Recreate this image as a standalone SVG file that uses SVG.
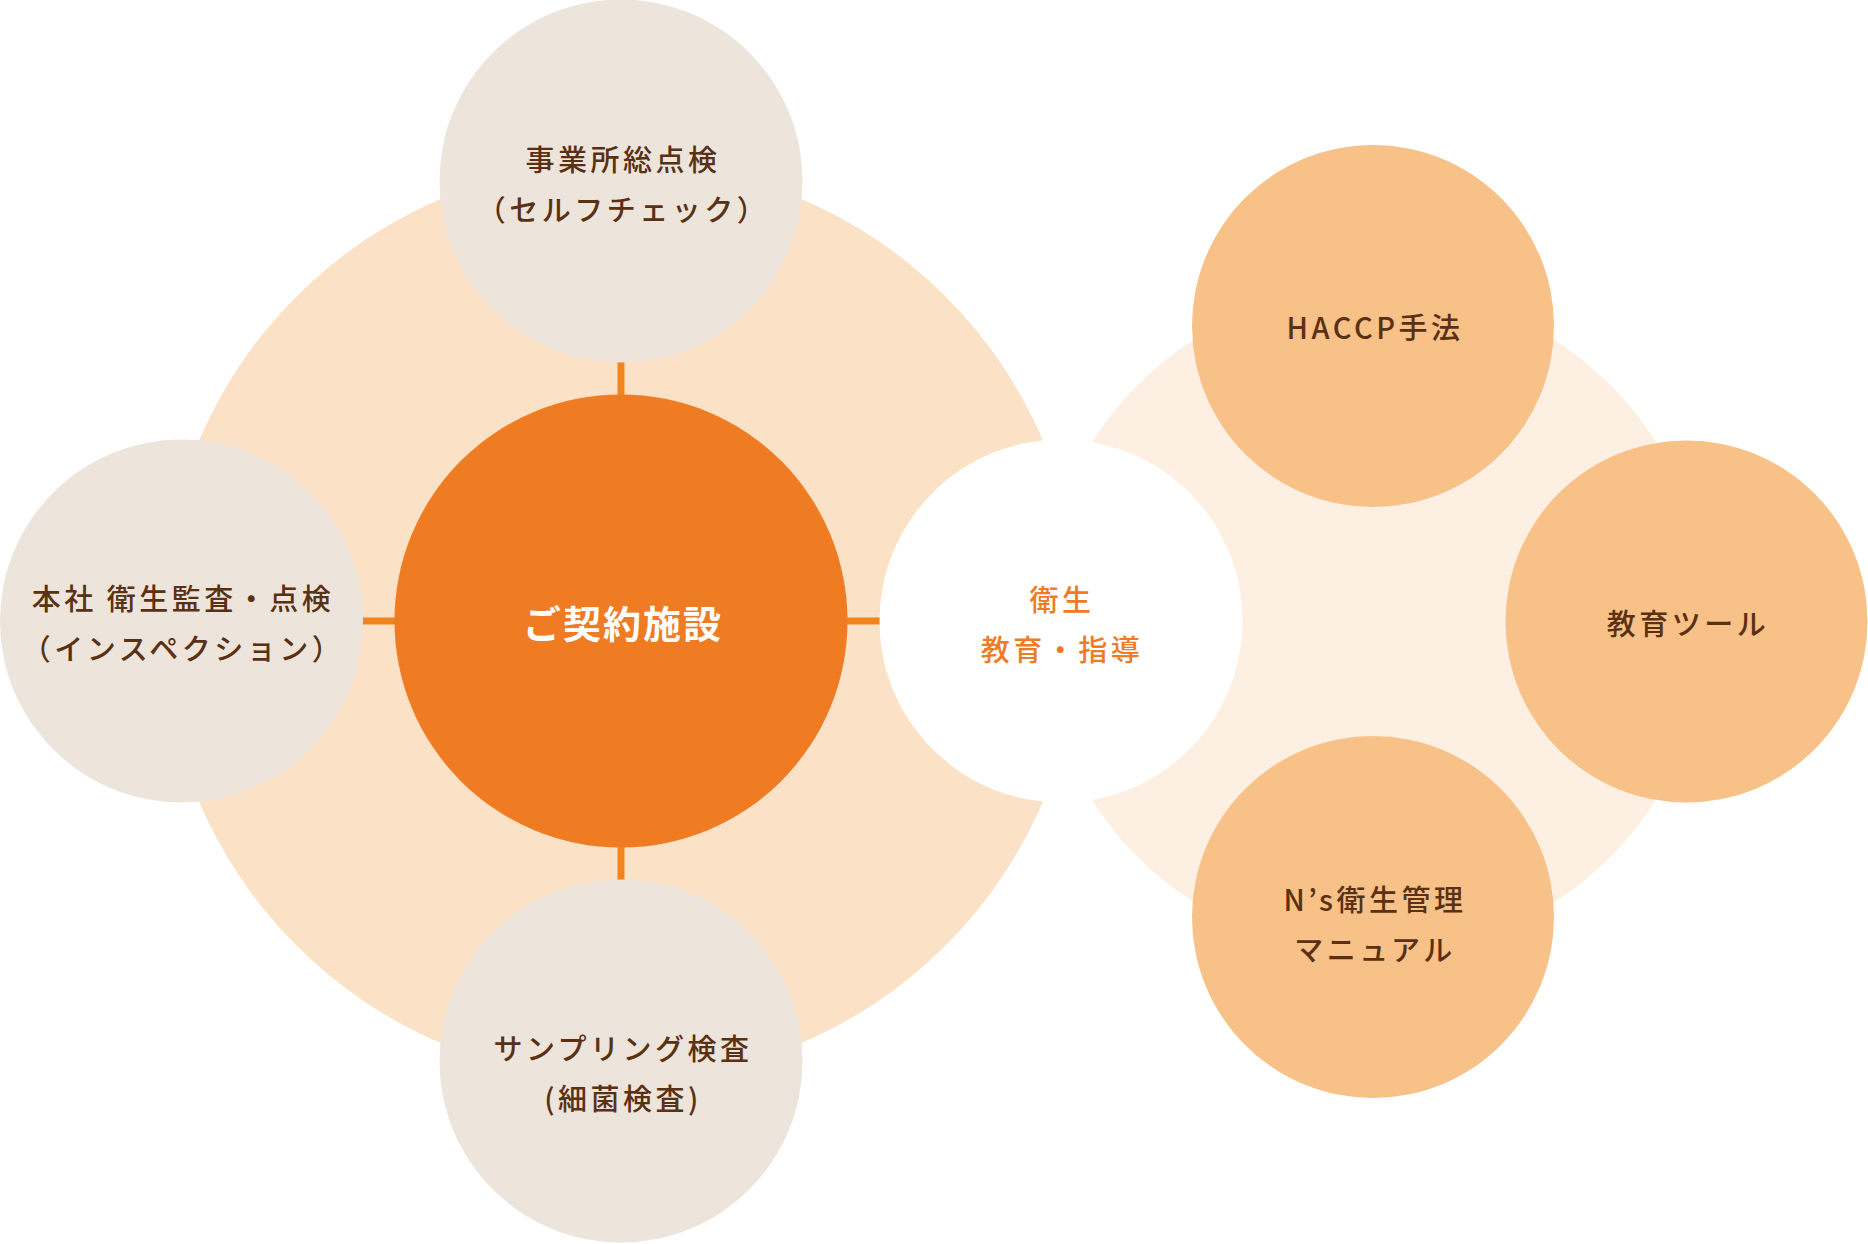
<svg xmlns="http://www.w3.org/2000/svg" width="1868" height="1244" viewBox="0 0 1868 1244">
  <style>
    .t { font-family: "Noto Sans CJK JP", "Noto Sans", sans-serif; font-size: 29px; font-weight: 500; fill: #5A3113; text-anchor: middle; letter-spacing: 3.5px; }
    .o { fill: #EF7B22; }
    .w { fill: #FFFFFF; font-size: 38px; font-weight: 700; letter-spacing: 2px; }
    .gray { fill: #EDE4DB; }
    .pch { fill: #F7C188; }
    .conn { stroke: #F08520; stroke-width: 7; fill: none; }
  </style>
  <rect width="1868" height="1244" fill="#FFFFFF"/>
  <g id="backgrounds">
    <circle cx="621" cy="621" r="459" fill="#FBE2C7"/>
    <circle cx="1374" cy="621" r="334" fill="#FDF0E3"/>
  </g>
  <g id="connectors">
    <line class="conn" x1="621" y1="360" x2="621" y2="398"/>
    <line class="conn" x1="621" y1="844" x2="621" y2="882"/>
    <line class="conn" x1="360" y1="621" x2="398" y2="621"/>
    <line class="conn" x1="844" y1="621" x2="882" y2="621"/>
  </g>
  <g id="node-top">
    <circle class="gray" cx="621" cy="181" r="181.5"/>
    <text class="t" x="623" y="171">事業所総点検</text>
    <text class="t" x="623" y="221">（セルフチェック）</text>
  </g>
  <g id="node-left">
    <circle class="gray" cx="181.5" cy="621" r="181.5"/>
    <text class="t" x="183" y="610">本社 衛生監査・点検</text>
    <text class="t" x="183" y="660">（インスペクション）</text>
  </g>
  <g id="node-bottom">
    <circle class="gray" cx="621" cy="1061" r="181.5"/>
    <text class="t" x="623" y="1060">サンプリング検査</text>
    <text class="t" x="623" y="1110">(細菌検査)</text>
  </g>
  <g id="node-center">
    <circle cx="621" cy="621" r="226.5" fill="#EF7B22"/>
    <text class="t w" x="623" y="638">ご契約施設</text>
  </g>
  <g id="node-education">
    <circle cx="1061" cy="621" r="181.5" fill="#FFFFFF"/>
    <text class="t o" x="1062" y="611">衛生</text>
    <text class="t o" x="1062" y="661">教育・指導</text>
  </g>
  <g id="node-haccp">
    <circle class="pch" cx="1373" cy="326" r="181"/>
    <text class="t" x="1375" y="339">HACCP手法</text>
  </g>
  <g id="node-tools">
    <circle class="pch" cx="1686.5" cy="621.5" r="181"/>
    <text class="t" x="1688" y="635">教育ツール</text>
  </g>
  <g id="node-manual">
    <circle class="pch" cx="1373" cy="917" r="181"/>
    <text class="t" x="1375" y="911">N’s衛生管理</text>
    <text class="t" x="1375" y="961">マニュアル</text>
  </g>
</svg>
